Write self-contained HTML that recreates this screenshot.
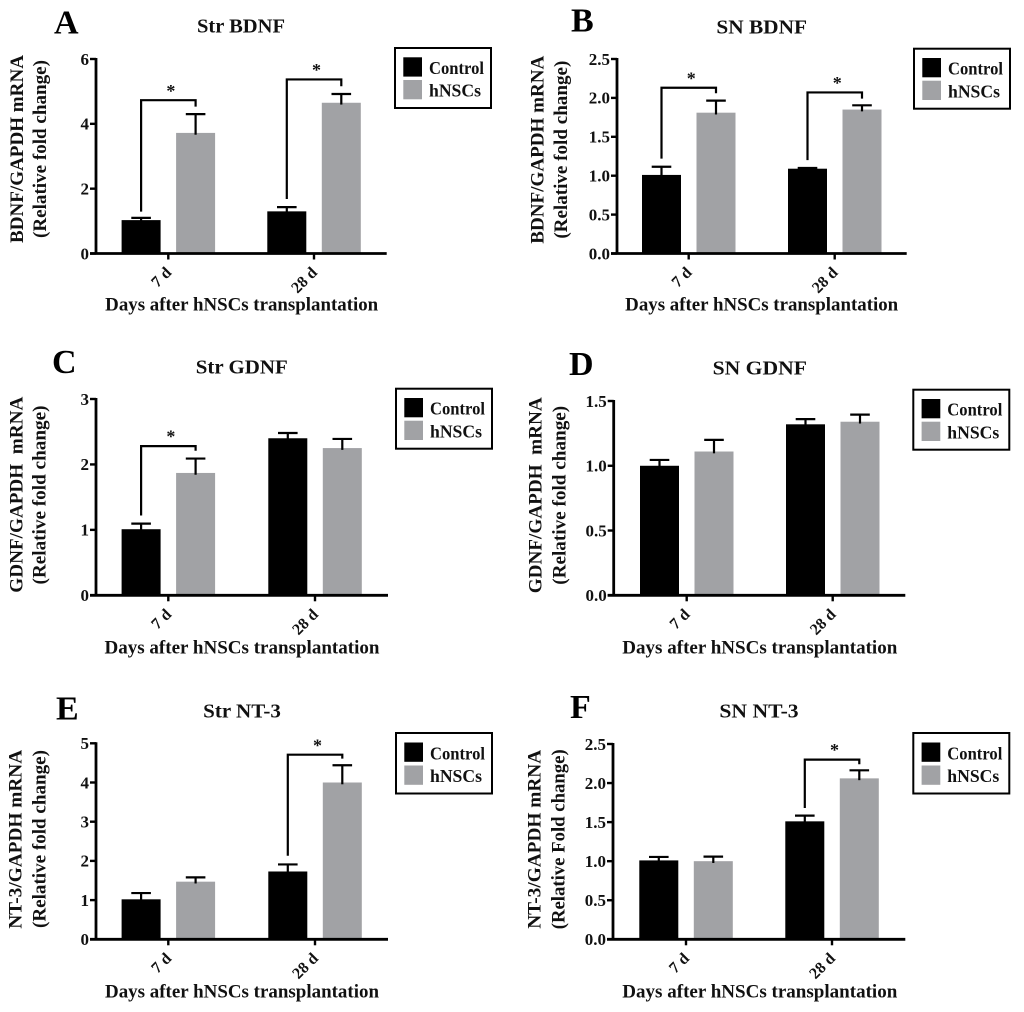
<!DOCTYPE html>
<html lang="en">
<head>
<meta charset="utf-8">
<title>Neurotrophic factor mRNA after hNSCs transplantation</title>
<style>
html,body{margin:0;padding:0;background:#fff;width:1024px;height:1012px;overflow:hidden}
svg{display:block;filter:blur(0.35px)}
text{font-family:"Liberation Serif",serif;font-weight:bold;fill:#111;white-space:pre}
.letter{font-size:34px;fill:#000}
.title{font-size:19.5px;text-anchor:middle}
.xt{font-size:18.5px;text-anchor:middle}
.yt{font-size:19px;text-anchor:middle}
.tick{font-size:17px;text-anchor:end}
.cat{font-size:16px;text-anchor:end}
.lg{font-size:18px}
.star{font-size:18px;text-anchor:middle}
</style>
</head>
<body>
<svg id="figure" xmlns="http://www.w3.org/2000/svg" width="1024" height="1012" viewBox="0 0 1024 1012">
<rect width="1024" height="1012" fill="#fff"/>

<g id="panel-a">
<text class="letter" x="54" y="33.5">A</text>
<text class="title" x="241" y="32.7" textLength="88" lengthAdjust="spacingAndGlyphs">Str BDNF</text>
<text class="yt" transform="translate(23,149) rotate(-90)" textLength="188" lengthAdjust="spacingAndGlyphs">BDNF/GAPDH mRNA</text>
<text class="yt" transform="translate(46,149) rotate(-90)" textLength="178" lengthAdjust="spacingAndGlyphs">(Relative fold change)</text>
<text class="xt" x="241.7" y="310.7" textLength="273" lengthAdjust="spacingAndGlyphs">Days after hNSCs transplantation</text>
<g transform="translate(395,48)">
<rect width="96" height="60" fill="#fff" stroke="#000" stroke-width="2"/>
<rect x="8.3" y="9.3" width="18.7" height="19.3" fill="#000"/>
<rect x="8.3" y="32" width="18.7" height="19.3" fill="#a1a2a5"/>
<text class="lg" x="34" y="26" textLength="55" lengthAdjust="spacingAndGlyphs">Control</text>
<text class="lg" x="34" y="48.7" textLength="52" lengthAdjust="spacingAndGlyphs">hNSCs</text>
</g>
</g>

<g id="panel-b">
<text class="letter" x="571" y="31.7">B</text>
<text class="title" x="761.7" y="33.3" textLength="90.7" lengthAdjust="spacingAndGlyphs">SN BDNF</text>
<text class="yt" transform="translate(543.7,149.7) rotate(-90)" textLength="188" lengthAdjust="spacingAndGlyphs">BDNF/GAPDH mRNA</text>
<text class="yt" transform="translate(567,149.7) rotate(-90)" textLength="178" lengthAdjust="spacingAndGlyphs">(Relative fold change)</text>
<text class="xt" x="761.7" y="310.7" textLength="273" lengthAdjust="spacingAndGlyphs">Days after hNSCs transplantation</text>
<g transform="translate(914,48.7)">
<rect width="96" height="60" fill="#fff" stroke="#000" stroke-width="2"/>
<rect x="8.3" y="9.3" width="18.7" height="19.3" fill="#000"/>
<rect x="8.3" y="32" width="18.7" height="19.3" fill="#a1a2a5"/>
<text class="lg" x="34" y="26" textLength="55" lengthAdjust="spacingAndGlyphs">Control</text>
<text class="lg" x="34" y="48.7" textLength="52" lengthAdjust="spacingAndGlyphs">hNSCs</text>
</g>
</g>

<g id="panel-c">
<text class="letter" x="52" y="373">C</text>
<text class="title" x="241.8" y="373.3" textLength="92" lengthAdjust="spacingAndGlyphs">Str GDNF</text>
<text class="yt" transform="translate(22.7,494.7) rotate(-90)" textLength="196" lengthAdjust="spacingAndGlyphs">GDNF/GAPDH  mRNA</text>
<text class="yt" transform="translate(45.7,495) rotate(-90)" textLength="179" lengthAdjust="spacingAndGlyphs">(Relative fold change)</text>
<text class="xt" x="242" y="653.3" textLength="275" lengthAdjust="spacingAndGlyphs">Days after hNSCs transplantation</text>
<g transform="translate(396,388.7)">
<rect width="96" height="60" fill="#fff" stroke="#000" stroke-width="2"/>
<rect x="8.3" y="9.3" width="18.7" height="19.3" fill="#000"/>
<rect x="8.3" y="32" width="18.7" height="19.3" fill="#a1a2a5"/>
<text class="lg" x="34" y="26" textLength="55" lengthAdjust="spacingAndGlyphs">Control</text>
<text class="lg" x="34" y="48.7" textLength="52" lengthAdjust="spacingAndGlyphs">hNSCs</text>
</g>
</g>

<g id="panel-d">
<text class="letter" x="569" y="375">D</text>
<text class="title" x="759.8" y="374.3" textLength="94.3" lengthAdjust="spacingAndGlyphs">SN GDNF</text>
<text class="yt" transform="translate(541.3,495.3) rotate(-90)" textLength="196" lengthAdjust="spacingAndGlyphs">GDNF/GAPDH  mRNA</text>
<text class="yt" transform="translate(565.3,495.3) rotate(-90)" textLength="179" lengthAdjust="spacingAndGlyphs">(Relative fold change)</text>
<text class="xt" x="759.8" y="653.3" textLength="275" lengthAdjust="spacingAndGlyphs">Days after hNSCs transplantation</text>
<g transform="translate(913.3,389.7)">
<rect width="96" height="60" fill="#fff" stroke="#000" stroke-width="2"/>
<rect x="8.3" y="9.3" width="18.7" height="19.3" fill="#000"/>
<rect x="8.3" y="32" width="18.7" height="19.3" fill="#a1a2a5"/>
<text class="lg" x="34" y="26" textLength="55" lengthAdjust="spacingAndGlyphs">Control</text>
<text class="lg" x="34" y="48.7" textLength="52" lengthAdjust="spacingAndGlyphs">hNSCs</text>
</g>
</g>

<g id="panel-e">
<text class="letter" x="56" y="719.3">E</text>
<text class="title" x="242" y="717.3" textLength="77.7" lengthAdjust="spacingAndGlyphs">Str NT-3</text>
<text class="yt" transform="translate(21.7,839.3) rotate(-90)" textLength="179" lengthAdjust="spacingAndGlyphs">NT-3/GAPDH mRNA</text>
<text class="yt" transform="translate(45.7,839) rotate(-90)" textLength="178" lengthAdjust="spacingAndGlyphs">(Relative fold change)</text>
<text class="xt" x="242" y="997.3" textLength="274" lengthAdjust="spacingAndGlyphs">Days after hNSCs transplantation</text>
<g transform="translate(396,733)">
<rect width="96" height="60.5" fill="#fff" stroke="#000" stroke-width="2"/>
<rect x="8.3" y="9.5" width="18.7" height="19.3" fill="#000"/>
<rect x="8.3" y="32.5" width="18.7" height="19.3" fill="#a1a2a5"/>
<text class="lg" x="34" y="26.3" textLength="55" lengthAdjust="spacingAndGlyphs">Control</text>
<text class="lg" x="34" y="49.2" textLength="52" lengthAdjust="spacingAndGlyphs">hNSCs</text>
</g>
</g>

<g id="panel-f">
<text class="letter" x="570" y="718">F</text>
<text class="title" x="759" y="717.3" textLength="79.3" lengthAdjust="spacingAndGlyphs">SN NT-3</text>
<text class="yt" transform="translate(540.3,839.3) rotate(-90)" textLength="179" lengthAdjust="spacingAndGlyphs">NT-3/GAPDH mRNA</text>
<text class="yt" transform="translate(564.7,839.3) rotate(-90)" textLength="180" lengthAdjust="spacingAndGlyphs">(Relative Fold change)</text>
<text class="xt" x="759.8" y="997.3" textLength="275" lengthAdjust="spacingAndGlyphs">Days after hNSCs transplantation</text>
<g transform="translate(913.3,733)">
<rect width="96" height="60.5" fill="#fff" stroke="#000" stroke-width="2"/>
<rect x="8.3" y="9.5" width="18.7" height="19.3" fill="#000"/>
<rect x="8.3" y="32.5" width="18.7" height="19.3" fill="#a1a2a5"/>
<text class="lg" x="34" y="26.3" textLength="55" lengthAdjust="spacingAndGlyphs">Control</text>
<text class="lg" x="34" y="49.2" textLength="52" lengthAdjust="spacingAndGlyphs">hNSCs</text>
</g>
</g>
</svg>

<script>
const categories = ['7 d', '28 d'];

const aTicks = ['0', '2', '4', '6'];
const aControl = [1.03, 1.30];
const aHnscs = [3.72, 4.65];
const aControlErr = [0.07, 0.13];
const aHnscsErr = [0.58, 0.27];
const aBrackets = [[0, 4.73, 1.29, 4.53], [1, 5.37, 1.68, 5.16]];

const bTicks = ['0.0', '0.5', '1.0', '1.5', '2.0', '2.5'];
const bControl = [1.01, 1.09];
const bHnscs = [1.81, 1.85];
const bControlErr = [0.105, 0.01];
const bHnscsErr = [0.155, 0.055];
const bBrackets = [[0, 2.13, 1.22, 2.06], [1, 2.07, 1.20, 1.99]];

const cTicks = ['0', '1', '2', '3'];
const cControl = [1.01, 2.40];
const cHnscs = [1.87, 2.25];
const cControlErr = [0.085, 0.08];
const cHnscsErr = [0.22, 0.14];
const cBrackets = [[0, 2.28, 1.22, 2.21]];

const dTicks = ['0.0', '0.5', '1.0', '1.5'];
const dControl = [1.00, 1.32];
const dHnscs = [1.11, 1.34];
const dControlErr = [0.045, 0.04];
const dHnscsErr = [0.09, 0.055];
const dBrackets = [];

const eTicks = ['0', '1', '2', '3', '4', '5'];
const eControl = [1.02, 1.73];
const eHnscs = [1.47, 4.00];
const eControlErr = [0.16, 0.18];
const eHnscsErr = [0.11, 0.44];
const eBrackets = [[1, 4.71, 2.13, 4.61]];

const fTicks = ['0.0', '0.5', '1.0', '1.5', '2.0', '2.5'];
const fControl = [1.01, 1.51];
const fHnscs = [1.00, 2.06];
const fControlErr = [0.044, 0.073];
const fHnscsErr = [0.058, 0.103];
const fBrackets = [[1, 2.30, 1.68, 2.24]];

const SVG_NS = 'http://www.w3.org/2000/svg';

function make(parent, tag, attrs, text) {
  const node = document.createElementNS(SVG_NS, tag);
  for (const key in attrs) node.setAttribute(key, attrs[key]);
  if (text !== undefined) node.textContent = text;
  parent.appendChild(node);
  return node;
}

function drawPanel(cfg) {
  const root = document.getElementById(cfg.id);
  const maxValue = parseFloat(cfg.ticks[cfg.ticks.length - 1]);
  const yScale = function (v) { return cfg.yBase - (v / maxValue) * (cfg.yBase - cfg.yTop); };
  const tickX = function (g) { return cfg.tick0 + g * cfg.spacing; };
  const barCenter = function (g, s) { return tickX(g) + (s === 0 ? -27.2 : 27.3); };
  const barW = 39;
  const series = [cfg.control, cfg.hnscs];
  const errors = [cfg.controlErr, cfg.hnscsErr];
  const fills = ['#000', '#a1a2a5'];
  const seriesKeys = ['control', 'hnscs'];

  series.forEach(function (vals, s) {
    vals.forEach(function (v, g) {
      const cx = barCenter(g, s);
      const bar = make(root, 'rect', { x: cx - barW / 2, y: yScale(v), width: barW, height: cfg.yBase - yScale(v), fill: fills[s] });
      
      

      const top = yScale(v + errors[s][g]);
      const stem = make(root, 'line', { x1: cx, x2: cx, y1: top, y2: yScale(v) + 1.8, stroke: '#000', 'stroke-width': 2.2 });
      
      
      const cap = make(root, 'line', { x1: cx - 9.8, x2: cx + 9.8, y1: top, y2: top, stroke: '#000', 'stroke-width': 2.2 });
      
      
    });
  });

  const yAxis = make(root, 'line', { x1: cfg.axisX, x2: cfg.axisX, y1: cfg.yTop - 1, y2: cfg.yBase + 1, stroke: '#000', 'stroke-width': 2.8 });
  
  
  const xAxis = make(root, 'line', { x1: cfg.axisX - 6, x2: cfg.xEnd, y1: cfg.yBase, y2: cfg.yBase, stroke: '#000', 'stroke-width': 2.8 });
  
  

  cfg.ticks.forEach(function (label) {
    const y = yScale(parseFloat(label));
    const mark = make(root, 'line', { x1: cfg.axisX - 6, x2: cfg.axisX, y1: y, y2: y, stroke: '#000', 'stroke-width': 2.4 });
    
    
    const txt = make(root, 'text', { class: 'tick', x: cfg.axisX - 7, y: y + 5.8 }, label);
    
    
  });

  categories.forEach(function (label, g) {
    const x = tickX(g);
    const mark = make(root, 'line', { x1: x, x2: x, y1: cfg.yBase, y2: cfg.yBase + 6, stroke: '#000', 'stroke-width': 2.4 });
    
    
    const txt = make(root, 'text', { class: 'cat', transform: 'translate(' + (x + 4) + ',' + (cfg.yBase + 20) + ') rotate(-45)' }, label);
    
    
  });

  cfg.brackets.forEach(function (b) {
    const xl = barCenter(b[0], 0);
    const xr = barCenter(b[0], 1);
    const yt = yScale(b[1]);
    const path = make(root, 'path', { d: 'M' + xl + ' ' + yScale(b[2]) + 'V' + yt + 'H' + xr + 'V' + yScale(b[3]), fill: 'none', stroke: '#000', 'stroke-width': 2.2 });
    
    
    const star = make(root, 'text', { class: 'star', x: (xl + xr) / 2 + 2.5, y: yt - 3.4 }, '*');
    
    
  });
}

drawPanel({ id: 'panel-a', ticks: aTicks, control: aControl, hnscs: aHnscs, controlErr: aControlErr, hnscsErr: aHnscsErr, brackets: aBrackets, axisX: 96, xEnd: 386.7, yTop: 59, yBase: 253.5, tick0: 168.3, spacing: 145.7 });
drawPanel({ id: 'panel-b', ticks: bTicks, control: bControl, hnscs: bHnscs, controlErr: bControlErr, hnscsErr: bHnscsErr, brackets: bBrackets, axisX: 617, xEnd: 906.7, yTop: 59, yBase: 253.5, tick0: 688.7, spacing: 146 });
drawPanel({ id: 'panel-c', ticks: cTicks, control: cControl, hnscs: cHnscs, controlErr: cControlErr, hnscsErr: cHnscsErr, brackets: cBrackets, axisX: 96, xEnd: 388, yTop: 399, yBase: 595.3, tick0: 168.3, spacing: 146.7 });
drawPanel({ id: 'panel-d', ticks: dTicks, control: dControl, hnscs: dHnscs, controlErr: dControlErr, hnscsErr: dHnscsErr, brackets: dBrackets, axisX: 613.7, xEnd: 905.3, yTop: 401, yBase: 595.3, tick0: 686.7, spacing: 146 });
drawPanel({ id: 'panel-e', ticks: eTicks, control: eControl, hnscs: eHnscs, controlErr: eControlErr, hnscsErr: eHnscsErr, brackets: eBrackets, axisX: 96, xEnd: 388, yTop: 743.3, yBase: 939.3, tick0: 168.3, spacing: 146.7 });
drawPanel({ id: 'panel-f', ticks: fTicks, control: fControl, hnscs: fHnscs, controlErr: fControlErr, hnscsErr: fHnscsErr, brackets: fBrackets, axisX: 613, xEnd: 905.3, yTop: 744, yBase: 939.3, tick0: 686, spacing: 146 });
</script>
</body>
</html>
